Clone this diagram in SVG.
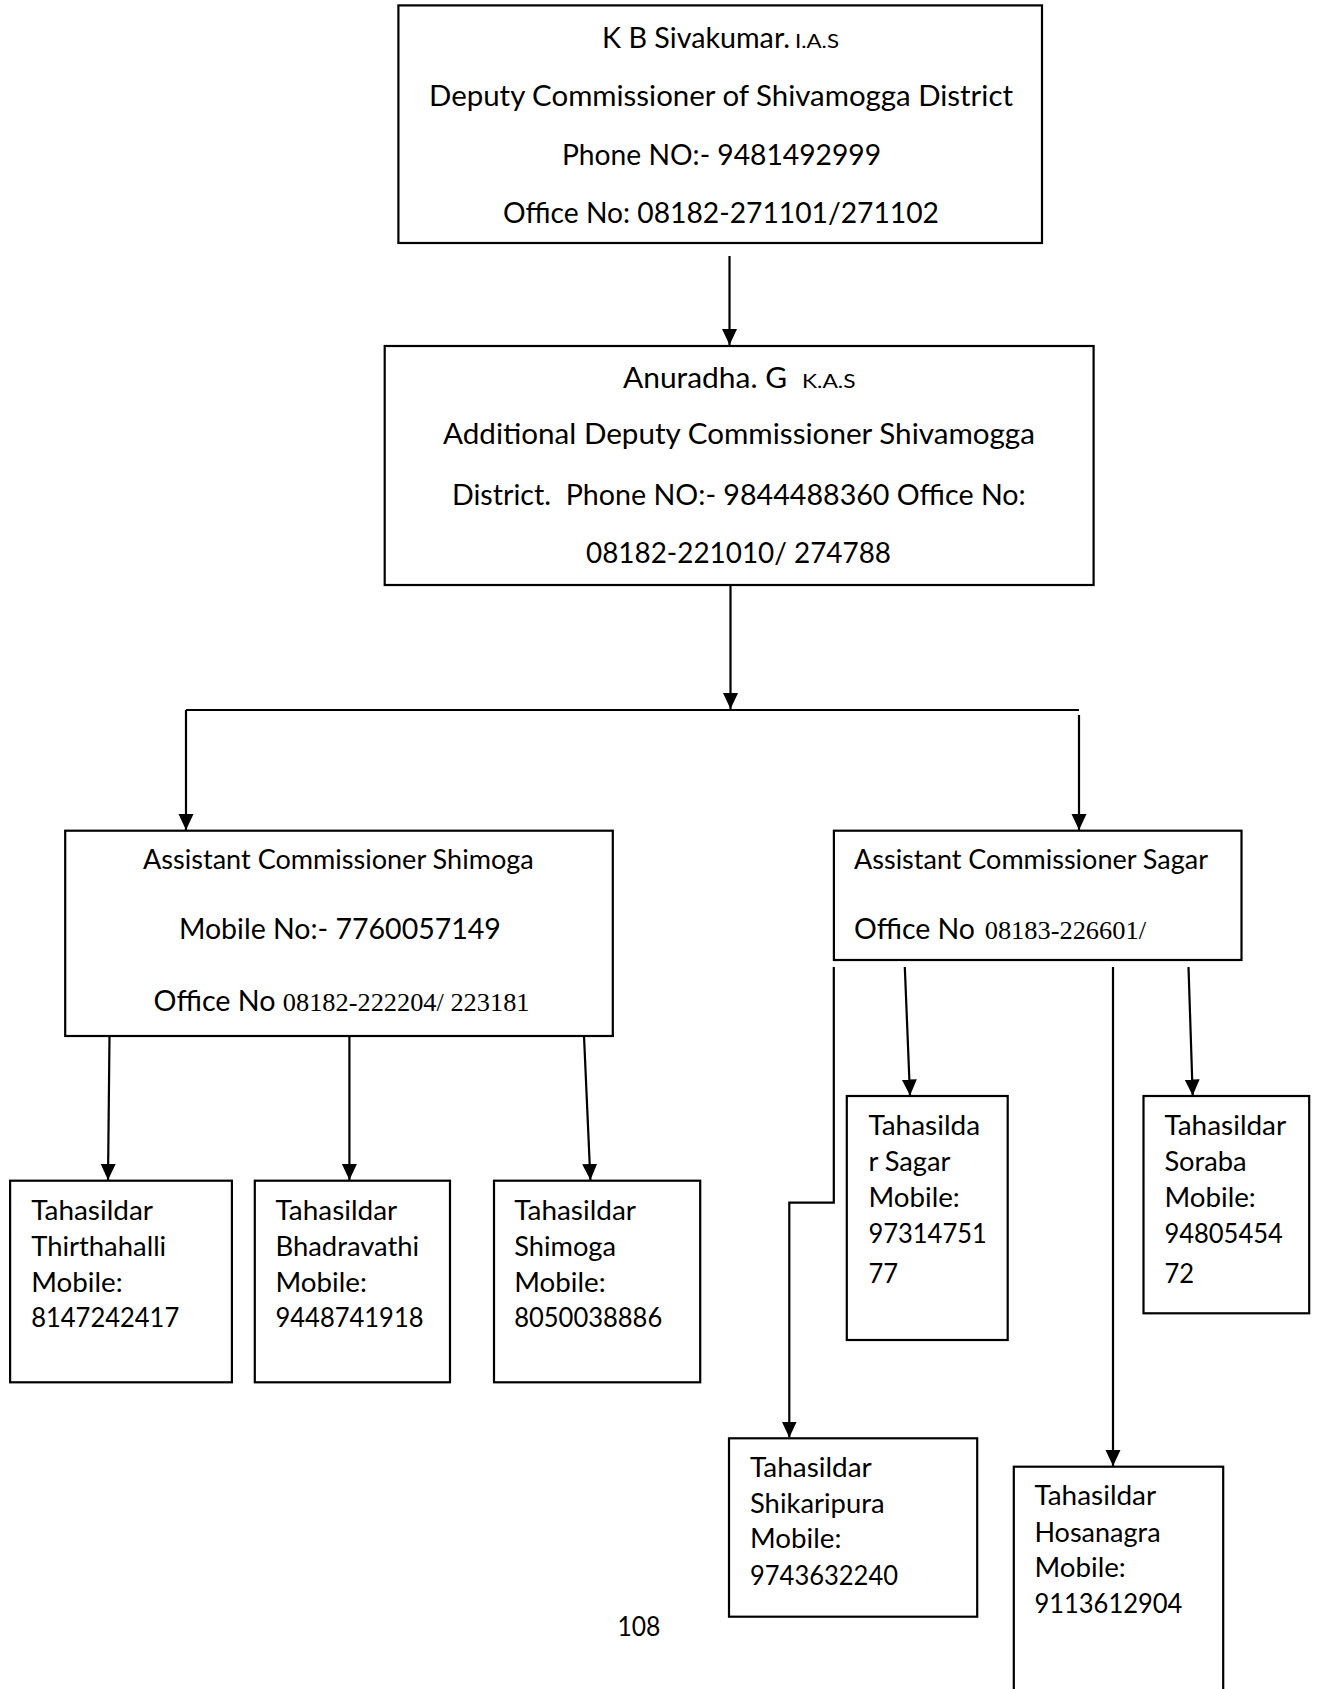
<svg xmlns="http://www.w3.org/2000/svg" width="1317" height="1689" viewBox="0 0 1317 1689">
<style>
  .box { fill: #fff; stroke: #000; stroke-width: 2.2; }
  .ln { fill: none; stroke: #000; stroke-width: 2.2; }
  .t { font-family: Lato, "Open Sans", "Liberation Sans", sans-serif; fill: #000; }
  .big { font-size: 29px; }
  .mid { font-size: 27px; }
  .sm { font-size: 20px; }
  .ser { font-family: "Liberation Serif", "Times New Roman", serif; font-size: 25px; fill: #000; }
</style>
<defs>
  <marker id="ah" markerUnits="userSpaceOnUse" markerWidth="18" markerHeight="16" refX="16" refY="7.5" orient="auto">
    <path d="M0,0 L16,7.5 L0,15 z" fill="#000"/>
  </marker>
</defs>
<rect width="1317" height="1689" fill="#fff"/>

<g id="connectors">
  <line class="ln" x1="729.5" y1="256" x2="729.5" y2="345" marker-end="url(#ah)"/>
  <line class="ln" x1="730.5" y1="585" x2="730.5" y2="709" marker-end="url(#ah)"/>
  <line class="ln" x1="186" y1="710" x2="1079" y2="710"/>
  <line class="ln" x1="186" y1="710" x2="186" y2="830" marker-end="url(#ah)"/>
  <line class="ln" x1="1079" y1="715" x2="1079" y2="830" marker-end="url(#ah)"/>
  <line class="ln" x1="109.5" y1="1036" x2="108" y2="1180" marker-end="url(#ah)"/>
  <line class="ln" x1="349.4" y1="1036" x2="349.4" y2="1180" marker-end="url(#ah)"/>
  <line class="ln" x1="584" y1="1036" x2="590.4" y2="1180" marker-end="url(#ah)"/>
  <polyline class="ln" points="833.8,967 833.8,1202.7 789.3,1202.7 789.3,1437.5" marker-end="url(#ah)"/>
  <line class="ln" x1="904.8" y1="967" x2="910" y2="1095.5" marker-end="url(#ah)"/>
  <line class="ln" x1="1113" y1="967" x2="1113" y2="1466" marker-end="url(#ah)"/>
  <line class="ln" x1="1188.5" y1="967" x2="1192.7" y2="1095.5" marker-end="url(#ah)"/>
</g>

<g id="dc">
  <rect class="box" x="398.4" y="5.4" width="643.6" height="237.6"/>
  <text class="t big" x="602" y="47.7" textLength="188" lengthAdjust="spacingAndGlyphs">K B Sivakumar.</text>
  <text class="t sm" x="795" y="47.7" textLength="44" lengthAdjust="spacingAndGlyphs">I.A.S</text>
  <text class="t big" x="429" y="106" textLength="584" lengthAdjust="spacingAndGlyphs">Deputy Commissioner of Shivamogga District</text>
  <text class="t big" x="562" y="165" textLength="319" lengthAdjust="spacingAndGlyphs">Phone NO:- 9481492999</text>
  <text class="t big" x="503" y="223" textLength="436" lengthAdjust="spacingAndGlyphs">Office No: 08182-271101/271102</text>
</g>

<g id="adc">
  <rect class="box" x="384.7" y="346" width="708.9" height="239"/>
  <text class="t big" x="623" y="387.7" textLength="164" lengthAdjust="spacingAndGlyphs">Anuradha. G</text>
  <text class="t sm" x="802" y="387.7" textLength="53.6" lengthAdjust="spacingAndGlyphs">K.A.S</text>
  <text class="t big" x="443" y="444" textLength="592" lengthAdjust="spacingAndGlyphs">Additional Deputy Commissioner Shivamogga</text>
  <text class="t big" x="452" y="505" textLength="573.7" lengthAdjust="spacingAndGlyphs">District.&#160; Phone NO:- 9844488360 Office No:</text>
  <text class="t big" x="586" y="562.7" textLength="305" lengthAdjust="spacingAndGlyphs">08182-221010/ 274788</text>
</g>

<g id="ac-shimoga">
  <rect class="box" x="65.2" y="830.7" width="547.6" height="205.3"/>
  <text class="t mid" x="143" y="869" textLength="390.7" lengthAdjust="spacingAndGlyphs">Assistant Commissioner Shimoga</text>
  <text class="t big" x="178.9" y="939.3" textLength="322" lengthAdjust="spacingAndGlyphs">Mobile No:- 7760057149</text>
  <text class="t big" x="153.6" y="1011" textLength="122" lengthAdjust="spacingAndGlyphs">Office No</text>
  <text class="ser" x="282.8" y="1011" textLength="246.7" lengthAdjust="spacingAndGlyphs">08182-222204/ 223181</text>
</g>

<g id="ac-sagar">
  <rect class="box" x="833.9" y="830.7" width="407.6" height="129.3"/>
  <text class="t mid" x="854" y="869.3" textLength="354" lengthAdjust="spacingAndGlyphs">Assistant Commissioner Sagar</text>
  <text class="t big" x="854" y="939.3" textLength="121" lengthAdjust="spacingAndGlyphs">Office No</text>
  <text class="ser" x="984.7" y="939.3" textLength="161.3" lengthAdjust="spacingAndGlyphs">08183-226601/</text>
</g>

<g id="t-thirthahalli">
  <rect class="box" x="10.1" y="1180.7" width="221.8" height="201.6"/>
  <text class="t mid" x="31.2" y="1220" textLength="121.8" lengthAdjust="spacingAndGlyphs">Tahasildar</text>
  <text class="t mid" x="31.2" y="1256" textLength="135" lengthAdjust="spacingAndGlyphs">Thirthahalli</text>
  <text class="t mid" x="31.2" y="1291.7" textLength="91.4" lengthAdjust="spacingAndGlyphs">Mobile:</text>
  <text class="t mid" x="31.2" y="1326.7" textLength="148" lengthAdjust="spacingAndGlyphs">8147242417</text>
</g>

<g id="t-bhadravathi">
  <rect class="box" x="254.8" y="1180.7" width="195.2" height="201.6"/>
  <text class="t mid" x="275.5" y="1220" textLength="121.8" lengthAdjust="spacingAndGlyphs">Tahasildar</text>
  <text class="t mid" x="275.5" y="1256" textLength="143.7" lengthAdjust="spacingAndGlyphs">Bhadravathi</text>
  <text class="t mid" x="275.5" y="1291.7" textLength="91.4" lengthAdjust="spacingAndGlyphs">Mobile:</text>
  <text class="t mid" x="275.5" y="1326.7" textLength="148" lengthAdjust="spacingAndGlyphs">9448741918</text>
</g>

<g id="t-shimoga">
  <rect class="box" x="494" y="1180.7" width="206.2" height="201.6"/>
  <text class="t mid" x="514.2" y="1220" textLength="121.8" lengthAdjust="spacingAndGlyphs">Tahasildar</text>
  <text class="t mid" x="514.2" y="1256" textLength="101.9" lengthAdjust="spacingAndGlyphs">Shimoga</text>
  <text class="t mid" x="514.2" y="1291.7" textLength="91.4" lengthAdjust="spacingAndGlyphs">Mobile:</text>
  <text class="t mid" x="514.2" y="1326.7" textLength="148" lengthAdjust="spacingAndGlyphs">8050038886</text>
</g>

<g id="t-sagar">
  <rect class="box" x="846.8" y="1096" width="160.9" height="244"/>
  <text class="t mid" x="868.4" y="1135" textLength="111.7" lengthAdjust="spacingAndGlyphs">Tahasilda</text>
  <text class="t mid" x="868.4" y="1170.7" textLength="82.1" lengthAdjust="spacingAndGlyphs">r Sagar</text>
  <text class="t mid" x="868.4" y="1206.7" textLength="91.4" lengthAdjust="spacingAndGlyphs">Mobile:</text>
  <text class="t mid" x="868.4" y="1242.7" textLength="118.4" lengthAdjust="spacingAndGlyphs">97314751</text>
  <text class="t mid" x="868.4" y="1283.3" textLength="29.6" lengthAdjust="spacingAndGlyphs">77</text>
</g>

<g id="t-soraba">
  <rect class="box" x="1143.5" y="1096" width="165.7" height="217.3"/>
  <text class="t mid" x="1164.4" y="1135" textLength="121.8" lengthAdjust="spacingAndGlyphs">Tahasildar</text>
  <text class="t mid" x="1164.4" y="1170.7" textLength="82.3" lengthAdjust="spacingAndGlyphs">Soraba</text>
  <text class="t mid" x="1164.4" y="1206.7" textLength="91.4" lengthAdjust="spacingAndGlyphs">Mobile:</text>
  <text class="t mid" x="1164.4" y="1242.7" textLength="118.4" lengthAdjust="spacingAndGlyphs">94805454</text>
  <text class="t mid" x="1164.4" y="1283.3" textLength="29.6" lengthAdjust="spacingAndGlyphs">72</text>
</g>

<g id="t-shikaripura">
  <rect class="box" x="729" y="1438.3" width="248.2" height="178.4"/>
  <text class="t mid" x="750" y="1476.7" textLength="121.8" lengthAdjust="spacingAndGlyphs">Tahasildar</text>
  <text class="t mid" x="750" y="1512.7" textLength="134.5" lengthAdjust="spacingAndGlyphs">Shikaripura</text>
  <text class="t mid" x="750" y="1548.3" textLength="91.4" lengthAdjust="spacingAndGlyphs">Mobile:</text>
  <text class="t mid" x="750" y="1585" textLength="148" lengthAdjust="spacingAndGlyphs">9743632240</text>
</g>

<g id="t-hosanagra">
  <rect class="box" x="1013.8" y="1466.7" width="209.4" height="240"/>
  <text class="t mid" x="1034.4" y="1505" textLength="121.8" lengthAdjust="spacingAndGlyphs">Tahasildar</text>
  <text class="t mid" x="1034.4" y="1541.7" textLength="126.2" lengthAdjust="spacingAndGlyphs">Hosanagra</text>
  <text class="t mid" x="1034.4" y="1576.7" textLength="91.4" lengthAdjust="spacingAndGlyphs">Mobile:</text>
  <text class="t mid" x="1034.4" y="1613.3" textLength="148" lengthAdjust="spacingAndGlyphs">9113612904</text>
</g>

<g id="page-number">
  <text class="t mid" x="617.4" y="1636" textLength="43" lengthAdjust="spacingAndGlyphs">108</text>
</g>
</svg>
